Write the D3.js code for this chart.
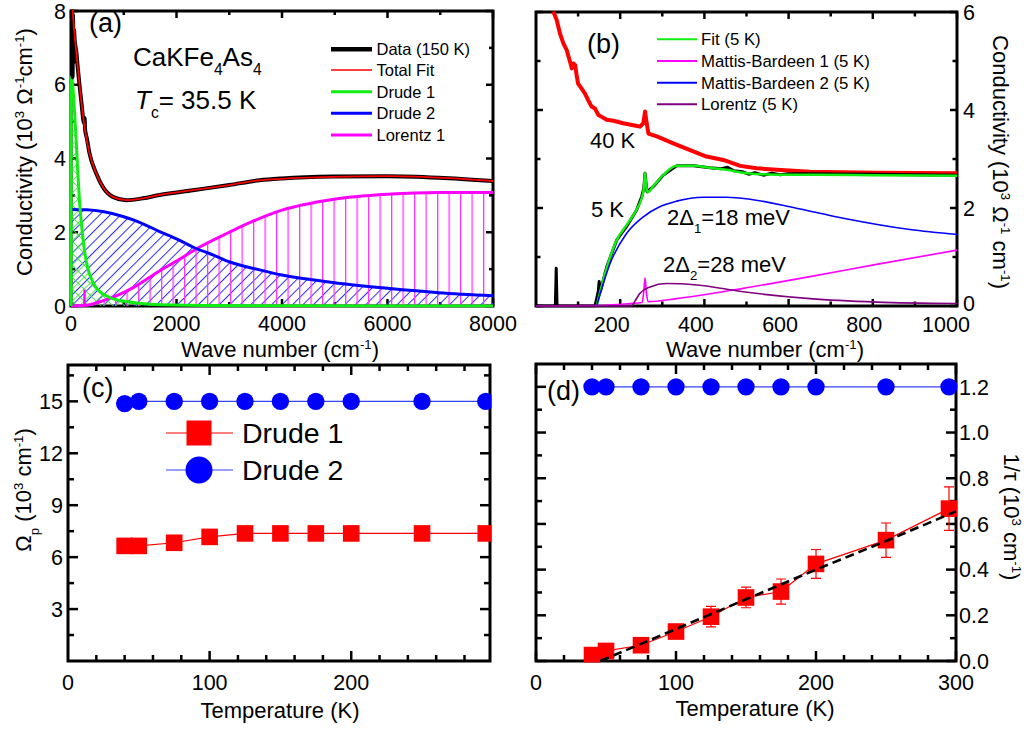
<!DOCTYPE html>
<html><head><meta charset="utf-8">
<script src="https://cdn.jsdelivr.net/npm/d3@7"></script>
<style>
body{margin:0;background:#fff}
text{font-family:"Liberation Sans",Arial,Helvetica,sans-serif;fill:#000}
</style></head>
<body><svg id="fig" width="1034" height="729"></svg>
<script>
// ================= DATA =================
// Panel (a): wave number (cm^-1) vs conductivity (10^3 Ohm^-1 cm^-1), 150 K
const a_data150K = [[22,8.4],[30,6.2],[38,7.9],[46,6.6],[56,7.5],[70,7.2],[100,6.9],[129,6.45],[193,5.58],[250,4.95],[258,5.1],[266,4.8],[300,4.55],[351,4.14],[477,3.6],[603,3.23],[793,2.96],[1046,2.87],[1362,2.92],[1678,3.01],[2310,3.14],[3000,3.28],[3573,3.41],[4000,3.46],[4957,3.51],[6000,3.52],[6970,3.48],[8000,3.39]];
const a_totalFit = [[15,8.6],[40,7.85],[66,7.39],[129,6.49],[193,5.58],[256,4.86],[351,4.14],[477,3.6],[603,3.23],[793,2.96],[1046,2.87],[1362,2.92],[1678,3.01],[2310,3.14],[3000,3.28],[3573,3.41],[4000,3.45],[4957,3.5],[6000,3.52],[6970,3.48],[8000,3.39]];
const a_drude1 = [[0,6.25],[20,6.15],[66,5.3],[98,4.5],[130,3.6],[161,2.85],[200,2.2],[256,1.5],[319,1.02],[414,0.65],[477,0.5],[540,0.4],[730,0.23],[1046,0.12],[1500,0.05],[2500,0.015],[4000,0.005],[8000,0]];
const a_drude2 = [[0,2.62],[300,2.61],[600,2.56],[1000,2.42],[1300,2.27],[1678,2.02],[2000,1.82],[2310,1.6],[2700,1.38],[3000,1.2],[3573,0.98],[4000,0.84],[4960,0.64],[6000,0.48],[6970,0.36],[8000,0.28]];
const a_lorentz1 = [[0,0],[300,0.02],[600,0.14],[900,0.3],[1178,0.5],[1678,0.95],[2000,1.22],[2440,1.6],[3000,2.0],[3450,2.3],[4000,2.6],[4960,2.89],[6000,3.03],[6970,3.08],[8000,3.08]];
const a_phonon = [[248,0],[256,0.45],[264,0]];
const a_legend = ["Data (150 K)","Total Fit","Drude 1","Drude 2","Lorentz 1"];
const a_xTicks = [0,2000,4000,6000,8000];
const a_yTicks = [0,2,4,6,8];

// Panel (b): 40 K and 5 K spectra and 5 K fit components
const b_data40K = [[41,6.01],[49,5.84],[57,5.56],[65,5.36],[73,5.22],[81,4.98],[85,4.85],[89,4.95],[93,4.92],[97,4.68],[100,4.54],[108,4.44],[116,4.34],[124,4.2],[132,4.07],[140,4.03],[148,3.9],[156,3.86],[168,3.8],[184,3.78],[207,3.73],[231,3.69],[247,3.66],[255,3.73],[259,3.97],[263,3.73],[267,3.52],[287,3.46],[326,3.32],[366,3.18],[405,3.05],[445,2.98],[485,2.86],[524,2.81],[572,2.78],[651,2.74],[809,2.72],[1000,2.71]];
const b_data5K = [[0,0],[46,0],[48,0.77],[50,0],[140,0],[148,0.3],[150,0.5],[153,0.3],[168,0.8],[192,1.35],[215,1.62],[239,1.96],[251,2.23],[256,2.4],[259,2.71],[262,2.45],[264,2.33],[279,2.44],[302,2.67],[334,2.86],[374,2.86],[413,2.82],[440,2.8],[455,2.83],[470,2.76],[490,2.74],[505,2.69],[520,2.72],[540,2.67],[560,2.71],[580,2.68],[600,2.7],[651,2.7],[800,2.69],[1000,2.67]];
const b_fit5K = [[144,0],[168,0.78],[192,1.35],[215,1.65],[239,1.97],[251,2.2],[256,2.4],[259,2.72],[262,2.45],[265,2.32],[279,2.45],[302,2.67],[334,2.86],[374,2.86],[413,2.82],[453,2.78],[492,2.72],[532,2.69],[572,2.68],[651,2.68],[800,2.67],[1000,2.66]];
const b_mb1 = [[0,0],[140,0.01],[223,0.05],[252,0.07],[256,0.3],[259,0.57],[262,0.3],[266,0.09],[334,0.15],[492,0.36],[651,0.6],[809,0.85],[1000,1.14]];
const b_mb2 = [[144,0],[176,0.87],[215,1.48],[255,1.82],[295,2.03],[334,2.14],[397,2.22],[453,2.22],[508,2.18],[611,2.01],[730,1.79],[888,1.56],[1000,1.46]];
const b_lorentz = [[0,0],[227,0],[235,0.1],[247,0.26],[271,0.39],[310,0.46],[382,0.43],[492,0.29],[651,0.15],[809,0.08],[1000,0.05]];
const b_legend = ["Fit (5 K)","Mattis-Bardeen 1 (5 K)","Mattis-Bardeen 2 (5 K)","Lorentz (5 K)"];
const b_xTicks = [200,400,600,800,1000];
const b_yTicks = [0,2,4,6];

// Panels (c),(d): Drude parameters vs temperature
const temps = [40,50,75,100,125,150,175,200,250,295];
const c_drude1 = [6.65,6.65,6.83,7.17,7.37,7.37,7.37,7.37,7.37,7.37];
const c_drude2 = [14.87,15.0,15.0,15.0,15.0,15.0,15.0,15.0,15.0,15.0];
const c_legend = ["Drude 1","Drude 2"];
const c_xTicks = [0,100,200];
const c_yTicks = [3,6,9,12,15];
const d_drude1 = [0.026,0.044,0.069,0.129,0.194,0.278,0.304,0.425,0.529,0.667];
const d_drude1Err = [0.005,0.005,0.01,0.015,0.045,0.045,0.055,0.063,0.075,0.095];
const d_drude2 = [1.2,1.2,1.2,1.2,1.2,1.2,1.2,1.2,1.2,1.2];
const d_fitT = [46,100,150,200,250,300];
const d_fitRate = [0,0.14,0.27,0.40,0.525,0.655];
const d_xTicks = [0,100,200,300];
const d_yTicks = [0,0.2,0.4,0.6,0.8,1.0,1.2];

// ================= DRAWING =================
const svg = d3.select("#fig");
const TICKFS = 21.5, TITLEFS = 22;

function rich(sel, parts, size){
  let shift = 0;
  parts.forEach(p=>{
    const target = p.sup ? -0.36*size : (p.sub ? 0.36*size : 0);
    const ts = sel.append("tspan").attr("dy", target - shift).text(p.t);
    if(p.sup || p.sub) ts.attr("font-size", size*0.6);
    if(p.it) ts.attr("font-style","italic");
    shift = target;
  });
  return sel;
}
function frame(g, x, y, xMaj, xMin, yMaj, yMin, majL, minL){
  const [x0,x1] = x.range(), [y0,y1] = y.range();
  const t = g.append("g").attr("stroke","#000").attr("stroke-width",2.5);
  const tk = (vals,len)=>{
    vals.forEach(v=>{
      t.append("line").attr("x1",x(v)).attr("x2",x(v)).attr("y1",y0).attr("y2",y0-len);
      t.append("line").attr("x1",x(v)).attr("x2",x(v)).attr("y1",y1).attr("y2",y1+len);
    });
  };
  const tky = (vals,len)=>{
    vals.forEach(v=>{
      t.append("line").attr("y1",y(v)).attr("y2",y(v)).attr("x1",x0).attr("x2",x0+len);
      t.append("line").attr("y1",y(v)).attr("y2",y(v)).attr("x1",x1).attr("x2",x1-len);
    });
  };
  tk(xMaj,majL); tk(xMin,minL); tky(yMaj,majL); tky(yMin,minL);
  g.append("rect").attr("x",x0).attr("y",y1).attr("width",x1-x0).attr("height",y0-y1)
    .attr("fill","none").attr("stroke","#000").attr("stroke-width",3);
}
function clip(id, x, y){
  const [x0,x1] = x.range(), [y0,y1] = y.range();
  svg.append("clipPath").attr("id",id).append("rect")
    .attr("x",x0-1.5).attr("y",y1-1.5).attr("width",x1-x0+3).attr("height",y0-y1+3);
}
const defs = svg.append("defs");
function pattern(id, w, rot, color, sw, cross){
  const p = defs.append("pattern").attr("id",id).attr("patternUnits","userSpaceOnUse")
    .attr("width",w).attr("height",w).attr("patternTransform",`rotate(${rot})`);
  p.append("line").attr("x1",0.5).attr("y1",0).attr("x2",0.5).attr("y2",w).attr("stroke",color).attr("stroke-width",sw);
  if(cross) p.append("line").attr("x1",0).attr("y1",0.5).attr("x2",w).attr("y2",0.5).attr("stroke",color).attr("stroke-width",sw);
}
pattern("hBlue",7.4,45,"#2a2aff",1.0,false);
pattern("hMag",11.5,0,"#ff33ff",1.6,false);
pattern("hGreen",8.5,45,"#33dd33",0.8,true);

const GREEN="#11ee11";

// ---------- Panel (a) ----------
{
  const x = d3.scaleLinear().domain([0,8000]).range([71,493]);
  const y = d3.scaleLinear().domain([0,8]).range([306,11]);
  const g = svg.append("g");
  frame(g,x,y,a_xTicks,[1000,3000,5000,7000],a_yTicks,[1,3,5,7],7,4);
  clip("clipA",x,y);
  const d = g.append("g").attr("clip-path","url(#clipA)");
  const area = d3.area().x(p=>x(p[0])).y0(y(0)).y1(p=>y(p[1])).curve(d3.curveMonotoneX);
  const line = d3.line().x(p=>x(p[0])).y(p=>y(p[1])).curve(d3.curveMonotoneX);
  d.append("path").attr("d",area(a_drude2)).attr("fill","url(#hBlue)");
  d.append("path").attr("d",area(a_lorentz1)).attr("fill","url(#hMag)");
  d.append("path").attr("d",area(a_drude1)).attr("fill","url(#hGreen)");
  d.append("path").attr("d",d3.line().x(p=>x(p[0])).y(p=>y(p[1]))(a_phonon)).attr("fill","none").attr("stroke","#ff00ff").attr("stroke-width",2);
  d.append("path").attr("d",line(a_lorentz1)).attr("fill","none").attr("stroke","#ff00ff").attr("stroke-width",3);
  d.append("path").attr("d",line(a_drude2)).attr("fill","none").attr("stroke","#0000ff").attr("stroke-width",3);
  d.append("line").attr("x1",x(a_drude1[0][0])).attr("x2",x(a_drude1[0][0])).attr("y1",y(0)).attr("y2",y(a_drude1[0][1])).attr("stroke",GREEN).attr("stroke-width",3);
  d.append("path").attr("d",line(a_drude1)).attr("fill","none").attr("stroke",GREEN).attr("stroke-width",3);
  d.append("path").attr("d",line(a_data150K)).attr("fill","none").attr("stroke","#000").attr("stroke-width",4);
  d.append("path").attr("d",line(a_totalFit)).attr("fill","none").attr("stroke","#ff0000").attr("stroke-width",1.8);
  // tick labels
  a_xTicks.forEach(v=>g.append("text").attr("x",x(v)).attr("y",331).attr("text-anchor","middle").attr("font-size",TICKFS).text(v));
  a_yTicks.forEach(v=>g.append("text").attr("x",66).attr("y",y(v)).attr("dy","0.36em").attr("text-anchor","end").attr("font-size",TICKFS).text(v));
  // titles
  rich(g.append("text").attr("x",280).attr("y",357).attr("text-anchor","middle").attr("font-size",TITLEFS),
    [{t:"Wave number (cm"},{t:"-1",sup:true},{t:")"}],TITLEFS);
  rich(g.append("text").attr("transform","translate(32,152) rotate(-90)").attr("text-anchor","middle").attr("font-size",TITLEFS),
    [{t:"Conductivity (10"},{t:"3",sup:true},{t:" \u03A9"},{t:"-1",sup:true},{t:"cm"},{t:"-1",sup:true},{t:")"}],TITLEFS);
  g.append("text").attr("x",89).attr("y",32).attr("font-size",27).text("(a)");
  rich(g.append("text").attr("x",133).attr("y",66).attr("font-size",26),
    [{t:"CaKFe"},{t:"4",sub:true},{t:"As"},{t:"4",sub:true}],26);
  rich(g.append("text").attr("x",135).attr("y",109).attr("font-size",26),
    [{t:"T",it:true},{t:"c",sub:true},{t:"= 35.5 K"}],26);
  // legend
  const lc = ["#000","#ff0000",GREEN,"#0000ff","#ff00ff"], lw=[4.5,1.6,3,3,3];
  const ly = [49.3,70,91.7,113.3,135];
  a_legend.forEach((s,i)=>{
    g.append("line").attr("x1",331).attr("x2",372).attr("y1",ly[i]).attr("y2",ly[i]).attr("stroke",lc[i]).attr("stroke-width",lw[i]);
    g.append("text").attr("x",376.5).attr("y",ly[i]).attr("dy","0.36em").attr("font-size",16.5).text(s);
  });
}

// ---------- Panel (b) ----------
{
  const x = d3.scaleLinear().domain([0,1000]).range([536,957]);
  const y = d3.scaleLinear().domain([0,6]).range([306,12]);
  const g = svg.append("g");
  frame(g,x,y,b_xTicks,[100,300,500,700,900],b_yTicks,[1,3,5],7,4.5);
  clip("clipB",x,y);
  const d = g.append("g").attr("clip-path","url(#clipB)");
  const lin = d3.line().x(p=>x(p[0])).y(p=>y(p[1]));
  const smooth = d3.line().x(p=>x(p[0])).y(p=>y(p[1])).curve(d3.curveMonotoneX);
  d.append("path").attr("d",lin(b_data40K)).attr("fill","none").attr("stroke","#ff0000").attr("stroke-width",4).attr("stroke-linejoin","round");
  d.append("path").attr("d",lin(b_data5K)).attr("fill","none").attr("stroke","#000").attr("stroke-width",3).attr("stroke-linejoin","round");
  d.append("path").attr("d",smooth(b_fit5K)).attr("fill","none").attr("stroke",GREEN).attr("stroke-width",2.5);
  d.append("path").attr("d",smooth(b_mb2)).attr("fill","none").attr("stroke","#0000ff").attr("stroke-width",1.6);
  d.append("path").attr("d",smooth(b_mb1)).attr("fill","none").attr("stroke","#ff00ff").attr("stroke-width",1.6);
  d.append("path").attr("d",smooth(b_lorentz)).attr("fill","none").attr("stroke","#800080").attr("stroke-width",1.6);
  b_xTicks.forEach(v=>g.append("text").attr("x",x(v)-(v===1000?11:8.5)).attr("y",331.5).attr("text-anchor","middle").attr("font-size",TICKFS).text(v));
  b_yTicks.forEach(v=>g.append("text").attr("x",963).attr("y",y(v)-(v===0?3:0)).attr("dy","0.36em").attr("font-size",TICKFS).text(v));
  rich(g.append("text").attr("x",765).attr("y",357).attr("text-anchor","middle").attr("font-size",TITLEFS),
    [{t:"Wave number (cm"},{t:"-1",sup:true},{t:")"}],TITLEFS);
  rich(g.append("text").attr("transform","translate(993,162) rotate(90)").attr("text-anchor","middle").attr("font-size",TITLEFS),
    [{t:"Conductivity (10"},{t:"3",sup:true},{t:" \u03A9"},{t:"-1",sup:true},{t:" cm"},{t:"-1",sup:true},{t:")"}],TITLEFS);
  g.append("text").attr("x",587).attr("y",53).attr("font-size",27).text("(b)");
  g.append("text").attr("x",590).attr("y",148).attr("font-size",22).text("40 K");
  g.append("text").attr("x",591).attr("y",217).attr("font-size",22).text("5 K");
  rich(g.append("text").attr("x",667).attr("y",225).attr("font-size",22),
    [{t:"2\u0394"},{t:"1",sub:true},{t:"=18 meV"}],22);
  rich(g.append("text").attr("x",663).attr("y",272).attr("font-size",22),
    [{t:"2\u0394"},{t:"2",sub:true},{t:"=28 meV"}],22);
  const lc = [GREEN,"#ff00ff","#0000ff","#800080"];
  const ly = [39.3,61,82.7,104.3];
  b_legend.forEach((s,i)=>{
    g.append("line").attr("x1",657).attr("x2",697).attr("y1",ly[i]).attr("y2",ly[i]).attr("stroke",lc[i]).attr("stroke-width",2);
    g.append("text").attr("x",701).attr("y",ly[i]).attr("dy","0.36em").attr("font-size",16.8).text(s);
  });
}

// ---------- Panel (c) ----------
{
  const x = d3.scaleLinear().domain([0,298]).range([68,490]);
  const y = d3.scaleLinear().domain([0,17.1]).range([661,365]);
  const g = svg.append("g");
  const minX = d3.range(20,300,20).filter(v=>v%100!==0);
  frame(g,x,y,[100,200],minX,c_yTicks,[1.5,4.5,7.5,10.5,13.5,16.5],10,6);
  clip("clipC",x,y);
  const d = g.append("g").attr("clip-path","url(#clipC)");
  const l1 = d3.line().x((v,i)=>x(temps[i])).y(v=>y(v));
  d.append("path").attr("d",l1(c_drude2)).attr("fill","none").attr("stroke","#3344ff").attr("stroke-width",1.2);
  d.append("path").attr("d",l1(c_drude1)).attr("fill","none").attr("stroke","#ff0000").attr("stroke-width",1.2);
  c_drude2.forEach((v,i)=>d.append("circle").attr("cx",x(temps[i])).attr("cy",y(v)).attr("r",8.7).attr("fill","#0000ff"));
  c_drude1.forEach((v,i)=>d.append("rect").attr("x",x(temps[i])-8.3).attr("y",y(v)-8.3).attr("width",16.6).attr("height",16.6).attr("fill","#ff0000"));
  c_xTicks.forEach(v=>g.append("text").attr("x",x(v)).attr("y",690).attr("text-anchor","middle").attr("font-size",TICKFS).text(v));
  c_yTicks.forEach(v=>g.append("text").attr("x",63).attr("y",y(v)).attr("dy","0.36em").attr("text-anchor","end").attr("font-size",TICKFS).text(v));
  g.append("text").attr("x",280).attr("y",718).attr("text-anchor","middle").attr("font-size",TITLEFS).text("Temperature (K)");
  rich(g.append("text").attr("transform","translate(31,490) rotate(-90)").attr("text-anchor","middle").attr("font-size",TITLEFS),
    [{t:"\u03A9"},{t:"p",sub:true},{t:" (10"},{t:"3",sup:true},{t:" cm"},{t:"-1",sup:true},{t:")"}],TITLEFS);
  g.append("text").attr("x",82).attr("y",397).attr("font-size",27).text("(c)");
  // legend
  g.append("line").attr("x1",166).attr("x2",233).attr("y1",433).attr("y2",433).attr("stroke","#ff0000").attr("stroke-width",1.2);
  g.append("rect").attr("x",199-12.5).attr("y",433-12.5).attr("width",25).attr("height",25).attr("fill","#ff0000");
  g.append("line").attr("x1",166).attr("x2",233).attr("y1",470).attr("y2",470).attr("stroke","#3344ff").attr("stroke-width",1.2);
  g.append("circle").attr("cx",199).attr("cy",470).attr("r",13.5).attr("fill","#0000ff");
  g.append("text").attr("x",242).attr("y",443).attr("font-size",28.5).text(c_legend[0]);
  g.append("text").attr("x",242).attr("y",480).attr("font-size",28.5).text(c_legend[1]);
}

// ---------- Panel (d) ----------
{
  const x = d3.scaleLinear().domain([0,300]).range([536,956]);
  const y = d3.scaleLinear().domain([0,1.3]).range([661,364]);
  const g = svg.append("g");
  const minX = d3.range(20,300,20).filter(v=>v%100!==0);
  frame(g,x,y,d_xTicks,minX,d_yTicks,[0.1,0.3,0.5,0.7,0.9,1.1],10,6);
  clip("clipD",x,y);
  const d = g.append("g").attr("clip-path","url(#clipD)");
  const l1 = d3.line().x((v,i)=>x(temps[i])).y(v=>y(v));
  d.append("path").attr("d",l1(d_drude2)).attr("fill","none").attr("stroke","#3344ff").attr("stroke-width",1.2);
  d.append("path").attr("d",l1(d_drude1)).attr("fill","none").attr("stroke","#ff0000").attr("stroke-width",1.2);
  const eb = d.append("g").attr("stroke","#ff0000").attr("stroke-width",1.2);
  d_drude1.forEach((v,i)=>{
    const cx = x(temps[i]), e = d_drude1Err[i];
    eb.append("line").attr("x1",cx).attr("x2",cx).attr("y1",y(v-e)).attr("y2",y(v+e));
    eb.append("line").attr("x1",cx-5).attr("x2",cx+5).attr("y1",y(v-e)).attr("y2",y(v-e));
    eb.append("line").attr("x1",cx-5).attr("x2",cx+5).attr("y1",y(v+e)).attr("y2",y(v+e));
  });
  d_drude2.forEach((v,i)=>d.append("circle").attr("cx",x(temps[i])).attr("cy",y(v)).attr("r",8.7).attr("fill","#0000ff"));
  d_drude1.forEach((v,i)=>d.append("rect").attr("x",x(temps[i])-8.3).attr("y",y(v)-8.3).attr("width",16.6).attr("height",16.6).attr("fill","#ff0000"));
  const lf = d3.line().x((v,i)=>x(d_fitT[i])).y(v=>y(v));
  d.append("path").attr("d",lf(d_fitRate)).attr("fill","none").attr("stroke","#000").attr("stroke-width",2.6).attr("stroke-dasharray","9,5");
  d_xTicks.forEach(v=>g.append("text").attr("x",x(v)).attr("y",690).attr("text-anchor","middle").attr("font-size",TICKFS).text(v));
  d_yTicks.forEach(v=>g.append("text").attr("x",959).attr("y",y(v)).attr("dy","0.36em").attr("font-size",TICKFS).text(d3.format(".1f")(v)));
  g.append("text").attr("x",755).attr("y",716).attr("text-anchor","middle").attr("font-size",TITLEFS).text("Temperature (K)");
  rich(g.append("text").attr("transform","translate(1004,517) rotate(90)").attr("text-anchor","middle").attr("font-size",TITLEFS),
    [{t:"1/\u03C4 (10"},{t:"3",sup:true},{t:" cm"},{t:"-1",sup:true},{t:")"}],TITLEFS);
  g.append("text").attr("x",547).attr("y",400).attr("font-size",27).text("(d)");
}
</script>
</body></html>
